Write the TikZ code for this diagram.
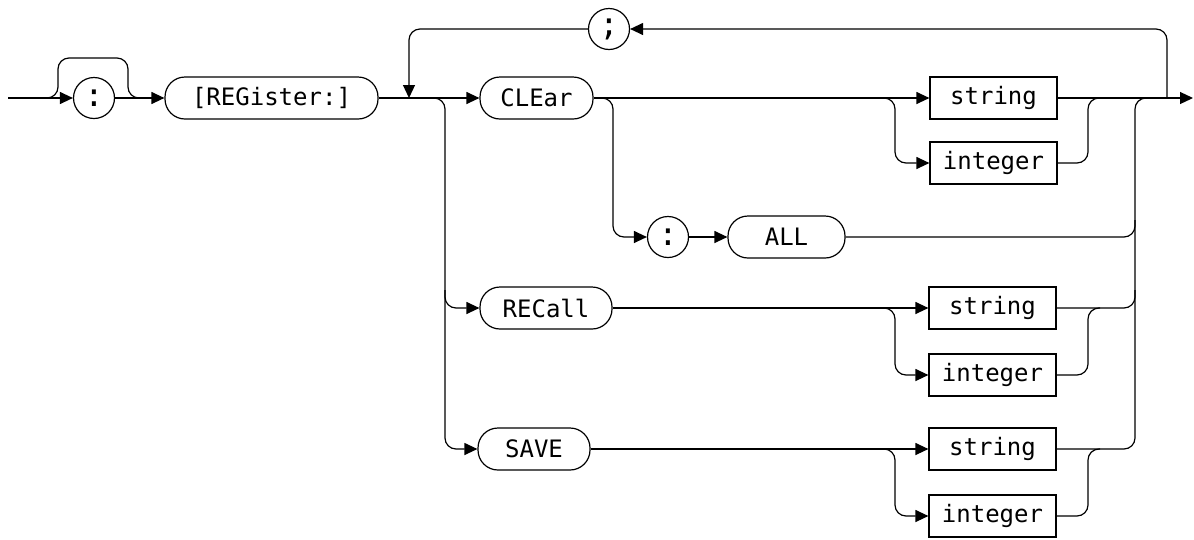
\documentclass[tikz,border=0pt]{standalone}
\usepackage{fontspec}
\newfontfamily\plotfont{DejaVu Sans Mono}
\usetikzlibrary{arrows.meta}

\begin{document}
\begin{tikzpicture}[x=1pt,y=-1pt,line width=1.2pt,rounded corners=11pt,
	>={Triangle[length=13pt,width=12pt]},
	kw/.style={draw,rounded corners=20pt,minimum height=42pt,inner sep=0pt,font=\plotfont\fontsize{24}{28}\selectfont},
	parm/.style={draw,rounded corners=0pt,minimum width=127pt,minimum height=42pt,inner sep=0pt,font=\plotfont\fontsize{24}{28}\selectfont},
	sym/.style={draw,circle,minimum size=41pt,inner sep=0pt,font=\plotfont\fontsize{32}{34}\selectfont}]
	%\draw[help lines] (0,0) grid[step=50pt] (1194,539);
	\useasboundingbox (0,0) rectangle (1194,539);
	\node[sym] (colA) at (94,98) {:};
	\node[kw,minimum width=213pt] (reg) at (271.5,98) {[REGister:]};
	\node[sym] (semi) at (609,29) {;};
	\node[kw,minimum width=113pt] (clr) at (536.5,98) {CLEar};
	\node[sym] (colB) at (668,237) {:};
	\node[kw,minimum width=117pt] (all) at (786.5,237) {ALL};
	\node[kw,minimum width=132pt] (rcl) at (546,308) {RECall};
	\node[kw,minimum width=112pt] (sav) at (534,449) {SAVE};
	\node[parm] (str1) at (993.5,98) {string};
	\node[parm] (int1) at (993.5,163) {integer};
	\node[parm] (str2) at (992.5,308) {string};
	\node[parm] (int2) at (992.5,375) {integer};
	\node[parm] (str3) at (992.5,449) {string};
	\node[parm] (int3) at (992.5,516) {integer};
	\coordinate (in) at (8,98);
	\coordinate (jn) at (409,98);
	\coordinate (out) at (1193,98);
	\coordinate (back) at (1167,98);
	% entry and the optional colon
	\draw[->] (in) -- (colA);
	\draw[->] (colA) -- (reg);
	\draw (44,98) -| (58,58) -| (128,98) -- (140,98);
	\draw (reg) -- (jn);
	\draw[->] (back) |- (semi);
	\draw[->] (semi) -| (jn);
	% CLEar
	\draw[->] (jn) -- (clr);
	\draw[->] (clr) -- (str1);
	\draw[->] (600,98) -| (613,237) -- (colB);
	\draw[->] (colB) -- (all);
	\draw[->] (884,98) -| (895,163) -- (int1);
	\draw[->] (str1) -- (out);
	\draw (int1) -| (1088,98) -- (1100,98);
	\draw (all) -| (1135,220);
	% RECall and SAVE
	\draw[->] (431,98) -| (445,449) -- (sav);
	\draw[->] (445,290) |- (rcl);
	\draw[->] (rcl) -- (str2);
	\draw[->] (884,308) -| (895,375) -- (int2);
	\draw (int2) -| (1088,308) -- (1100,308);
	\draw (str2) -| (1135,290);
	\draw[->] (sav) -- (str3);
	\draw[->] (884,449) -| (895,516) -- (int3);
	\draw (int3) -| (1088,449) -- (1100,449);
	\draw (str3) -| (1135,98) -- (1148,98);
\end{tikzpicture}
\end{document}
